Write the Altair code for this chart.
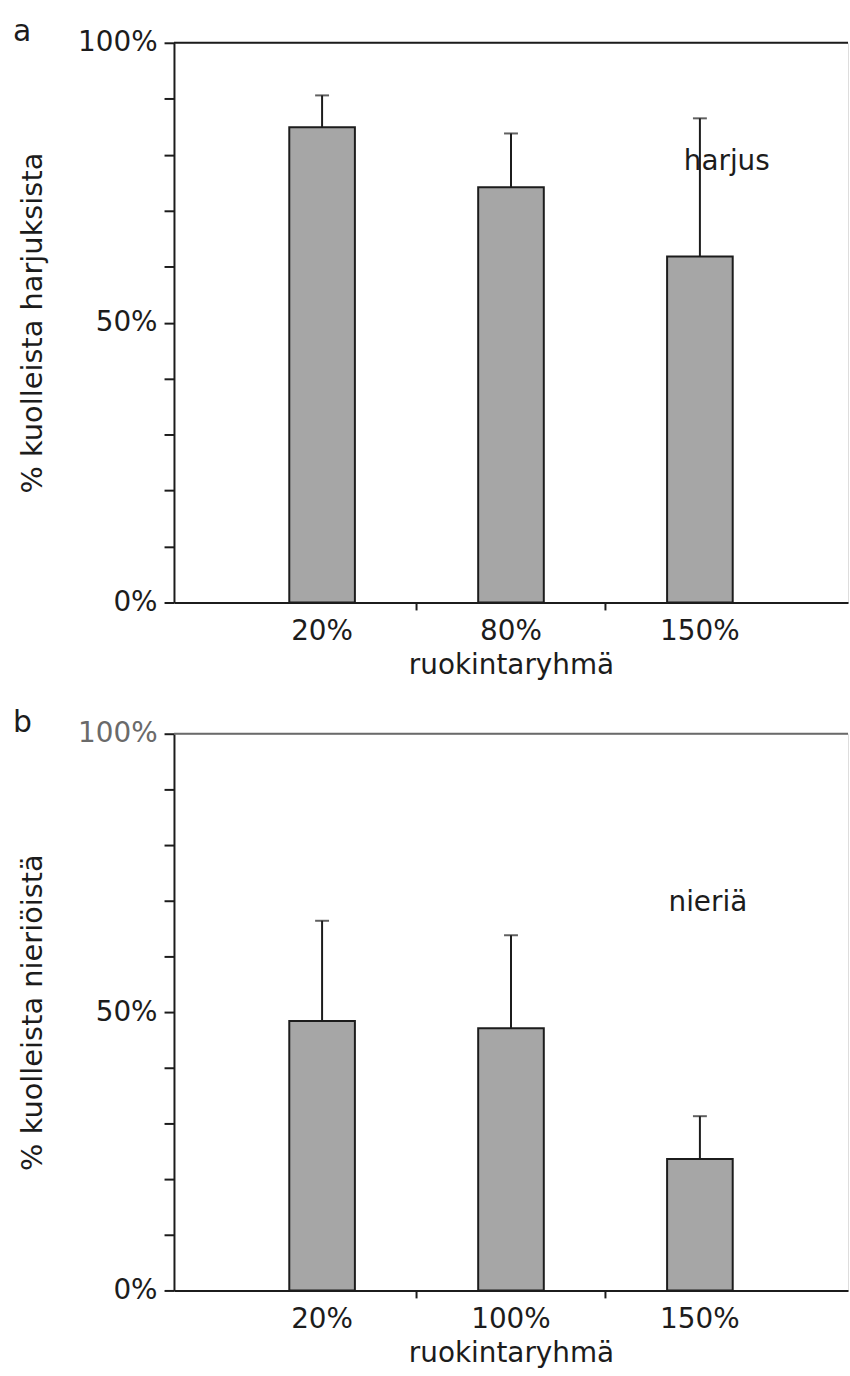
import altair as alt
import pandas as pd

FONT = "DejaVu Sans"
INK = "#1c1c1c"

# ---- data -------------------------------------------------------------
cats_a = ["20%", "80%", "150%"]
mean_a = [84.9, 74.2, 61.8]
upper_a = [90.6, 83.8, 86.5]

cats_b = ["20%", "100%", "150%"]
mean_b = [48.4, 47.1, 23.6]
upper_b = [66.4, 63.8, 31.3]

y_tick_values = [0, 10, 20, 30, 40, 50, 60, 70, 80, 90, 100]
x_title = "ruokintaryhmä"
y_title_a = "% kuolleista harjuksista"
y_title_b = "% kuolleista nieriöistä"

species_a = ["harjus"]
species_a_cat = ["150%"]
species_a_pos = [78.7]

species_b = ["nieriä"]
species_b_cat = ["150%"]
species_b_pos = [69.6]

letter_a = "a"
letter_b = "b"

W = 678


def panel(cats, mean, upper, ytitle, sp_text, sp_cat, sp_pos, sp_dx, letter, h,
          top_color, label100_color):
    df = pd.DataFrame({"cat": cats, "mean": mean, "upper": upper})
    bounds_df = pd.DataFrame({"cat": cats[1:]})
    top_df = pd.DataFrame({"top": [100]})
    sp_df = pd.DataFrame({"cat": sp_cat, "pos": sp_pos, "text": sp_text})

    xscale = alt.Scale(domain=cats, paddingInner=0, paddingOuter=0.284)
    yscale = alt.Scale(domain=[0, 100], nice=False, zero=True)

    xaxis = alt.Axis(
        title=x_title, labelAngle=0, ticks=False, labelPadding=15,
        titlePadding=6, labelFontSize=28, titleFontSize=28,
        labelFont=FONT, titleFont=FONT, titleFontWeight="normal",
        labelColor=INK, titleColor=INK, domainColor=INK, domainWidth=2,
    )
    yaxis = alt.Axis(
        title=ytitle, values=y_tick_values,
        labelExpr="datum.value % 50 == 0 ? datum.value + '%' : ''",
        tickSize=10, tickWidth=2, tickColor=INK, domainColor=INK, domainWidth=2,
        labelPadding=7, labelFontSize=28, labelFont=FONT,
        labelColor=alt.expr(f"datum.value == 100 ? '{label100_color}' : '{INK}'"),
        titleFontSize=29, titleFont=FONT, titleFontWeight="normal",
        titleColor=INK, titlePadding=30, grid=False,
    )

    x_enc = alt.X("cat:N", scale=xscale, sort=cats, axis=xaxis)

    bars = alt.Chart(df).mark_bar(
        width=66, fill="#a6a6a6", stroke=INK, strokeWidth=2
    ).encode(x=x_enc, y=alt.Y("mean:Q", scale=yscale, axis=yaxis))

    err = alt.Chart(df).mark_rule(color=INK, strokeWidth=2).encode(
        x=x_enc,
        y=alt.Y("mean:Q", scale=yscale, axis=yaxis),
        y2="upper:Q",
    )
    cap = alt.Chart(df).mark_tick(
        color=INK, thickness=2, size=14, orient="horizontal"
    ).encode(x=x_enc, y=alt.Y("upper:Q", scale=yscale, axis=yaxis))

    xticks = alt.Chart(bounds_df).mark_rule(color=INK, strokeWidth=2).encode(
        x=alt.X("cat:N", scale=xscale, sort=cats, axis=xaxis, bandPosition=0),
        y=alt.value(h),
        y2=alt.value(h + 8),
    )

    top = alt.Chart(top_df).mark_rule(color=top_color, strokeWidth=2).encode(
        y=alt.Y("top:Q", scale=yscale, axis=yaxis)
    )

    label = alt.Chart(sp_df).mark_text(
        font=FONT, fontSize=28, color=INK, dx=sp_dx, align="center", baseline="middle"
    ).encode(x=x_enc, y=alt.Y("pos:Q", scale=yscale, axis=yaxis), text="text:N")

    return alt.layer(top, bars, err, cap, xticks, label).properties(
        width=W,
        height=h,
        title=alt.TitleParams(
            letter, anchor="start", frame="bounds", fontSize=30, font=FONT,
            fontWeight="normal", color=INK, offset=-18, dx=-6,
        ),
    )


pa = panel(cats_a, mean_a, upper_a, y_title_a, species_a, species_a_cat,
           species_a_pos, 27, letter_a, 563, INK, INK)
pb = panel(cats_b, mean_b, upper_b, y_title_b, species_b, species_b_cat,
           species_b_pos, 8, letter_b, 560, "#6a6a6a", "#6a6a6a")

chart = alt.vconcat(pa, pb, spacing=27).properties(
    padding={"left": 12, "top": 12, "right": 0, "bottom": 0}
).configure_view(stroke=None).configure(background="white")

chart.save("out.html", embed_options={"renderer": "svg", "actions": False})
